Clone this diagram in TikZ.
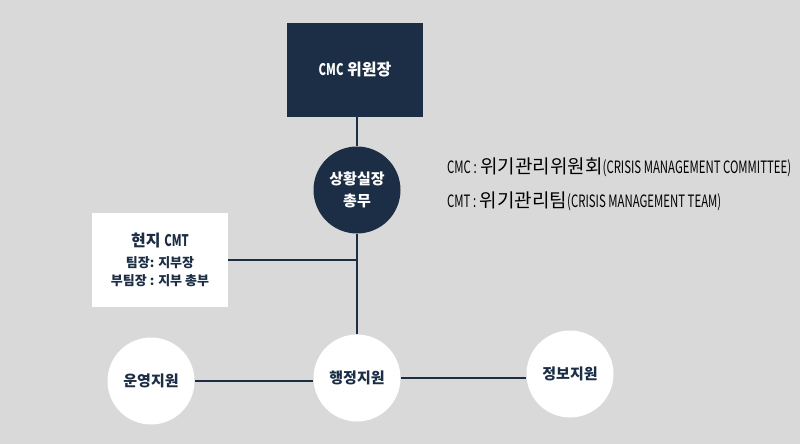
\documentclass[tikz,border=0pt]{standalone}
\usepackage{fontspec}
\setmainfont{Noto Sans CJK KR}
\usepackage{graphicx}
\definecolor{navy}{HTML}{1B2E45}
\definecolor{bg}{HTML}{D9D9D9}
\newcommand\cnd[1]{\scalebox{0.7}[1]{#1}}
\newcommand\lcnd[1]{{\fontsize{17}{18}\selectfont\scalebox{0.67}[1]{#1}}}
\newcommand\krbig[1]{{\fontsize{19}{20}\selectfont #1}}
\begin{document}
\begin{tikzpicture}[x=1pt,y=-1pt,
    line/.style={navy,line width=2pt},
    head/.style={rectangle,fill=navy,text=white,minimum width=136pt,minimum height=94pt,font=\bfseries\fontsize{16}{18}\selectfont},
    hub/.style={circle,fill=navy,text=white,minimum size=87pt,inner sep=0pt,align=center,font=\bfseries\fontsize{15}{22}\selectfont},
    unit/.style={circle,fill=white,text=navy,minimum size=87pt,inner sep=0pt,font=\bfseries\fontsize{15}{18}\selectfont},
    local/.style={rectangle,fill=white,text=navy,minimum width=136pt,minimum height=94pt,align=center,font=\bfseries\fontsize{13}{18}\selectfont},
    legend/.style={anchor=west,inner sep=0pt,text=black,font=\fontsize{16}{18}\selectfont}]
    \fill[bg] (0,0) rectangle (800,444);
    \useasboundingbox (0,0) rectangle (800,444);
    \node[head] (cmc) at (355,70) {\cnd{CMC} 위원장};
    \node[hub] (sit) at (357,190) {상황실장\\총무};
    \node[local] (cmt) at (160,260) {{\fontsize{16}{20}\selectfont 현지 \cnd{CMT}}\\[3pt]
        팀장: 지부장\\
        부팀장 : 지부 총부};
    \node[unit] (ops) at (151,381) {운영지원};
    \node[unit] (adm) at (357,378) {행정지원};
    \node[unit] (inf) at (570,374) {정보지원};
    \coordinate (jn) at (cmt.east -| sit.south);
    \draw[line] (sit.north |- cmc.south) -- (sit.north);
    \draw[line] (sit.south) -- (adm.north);
    \draw[line] (cmt.east) -- (jn);
    \draw[line] (ops.east) -- (ops.east -| adm.west);
    \draw[line] (adm.east) -- (adm.east -| inf.west);
    \node[legend] (l1) at (447,167) {\lcnd{CMC :} \krbig{위기관리위원회}\lcnd{(CRISIS MANAGEMENT COMMITTEE)}};
    \node[legend] (l2) at (447,201) {\lcnd{CMT :} \krbig{위기관리팀}\lcnd{(CRISIS MANAGEMENT TEAM)}};
\end{tikzpicture}
\end{document}
